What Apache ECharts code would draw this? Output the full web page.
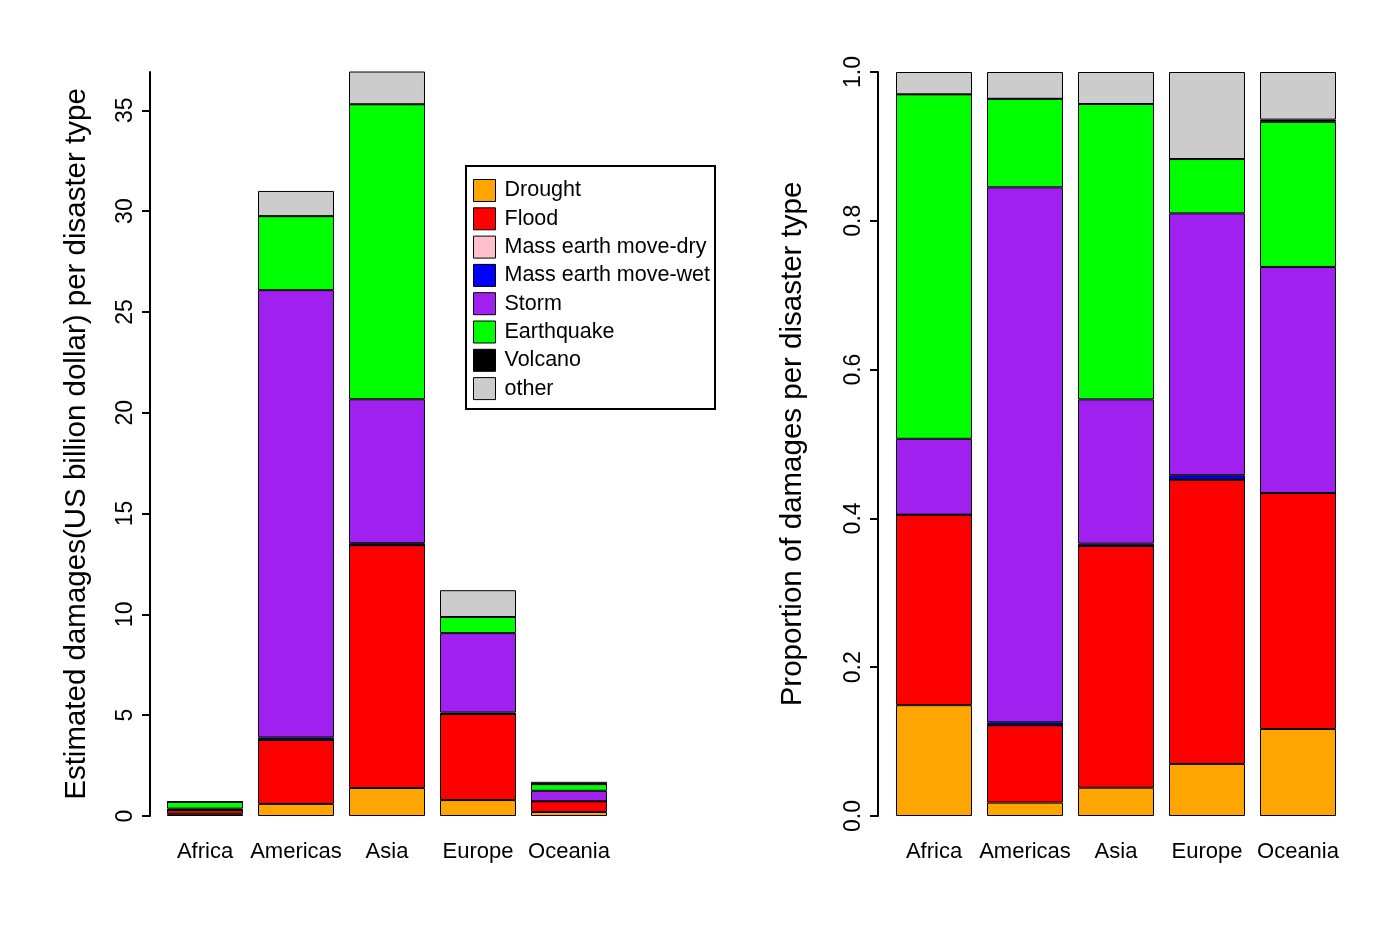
<!DOCTYPE html>
<html><head><meta charset="utf-8">
<script src="https://cdn.jsdelivr.net/npm/echarts@6/dist/echarts.min.js"></script>
<style>html,body{margin:0;padding:0;background:#fff}#c{width:1394px;height:944px}</style>
</head><body><div id="c"></div>
<script>
const regions = ["Africa","Americas","Asia","Europe","Oceania"];
const types = ["Drought","Flood","Mass earth move-dry","Mass earth move-wet","Storm","Earthquake","Volcano","other"];
const colors = ["#FFA500","#FF0000","#FFC0CB","#0000FF","#A020F0","#00FF00","#000000","#CCCCCC"];
// Left: estimated damages (US billion dollar), per type, per region
const dmgDrought    = [0.107, 0.60, 1.39, 0.79, 0.20];
const dmgFlood      = [0.184, 3.17, 12.04, 4.27, 0.53];
const dmgMassDry    = [0, 0, 0, 0, 0];
const dmgMassWet    = [0, 0.13, 0.10, 0.07, 0];
const dmgStorm      = [0.073, 22.18, 7.14, 3.94, 0.52];
const dmgEarthquake = [0.334, 3.67, 14.63, 0.80, 0.33];
const dmgVolcano    = [0, 0, 0, 0, 0.005];
const dmgOther      = [0.022, 1.25, 1.68, 1.33, 0.11];
// Right: proportion of damages per type
const prDrought    = [0.149, 0.018, 0.038, 0.070, 0.117];
const prFlood      = [0.256, 0.104, 0.325, 0.382, 0.317];
const prMassDry    = [0, 0, 0, 0, 0];
const prMassWet    = [0, 0.004, 0.003, 0.006, 0];
const prStorm      = [0.102, 0.719, 0.194, 0.352, 0.304];
const prEarthquake = [0.463, 0.119, 0.397, 0.073, 0.195];
const prVolcano    = [0, 0, 0, 0, 0.003];
const prOther      = [0.030, 0.036, 0.043, 0.117, 0.064];
const leftTicks = [0,5,10,15,20,25,30,35];
const rightTicks = [0,0.2,0.4,0.6,0.8,1.0];

const dmg = [dmgDrought,dmgFlood,dmgMassDry,dmgMassWet,dmgStorm,dmgEarthquake,dmgVolcano,dmgOther];
const pr = [prDrought,prFlood,prMassDry,prMassWet,prStorm,prEarthquake,prVolcano,prOther];
const FONT = "Liberation Sans";

const series = [];
types.forEach((t,i)=>{
  series.push({name:t,type:'bar',stack:'L',xAxisIndex:0,yAxisIndex:0,data:dmg[i],
    barCategoryGap:'16.5%',itemStyle:{color:colors[i],borderColor:'#000',borderWidth:1},emphasis:{disabled:true}});
});
types.forEach((t,i)=>{
  series.push({name:t,type:'bar',stack:'R',xAxisIndex:1,yAxisIndex:1,data:pr[i],
    barCategoryGap:'16.5%',itemStyle:{color:colors[i],borderColor:'#000',borderWidth:1},emphasis:{disabled:true}});
});

function yAx(gi,max,ticks,name,fmt,offset,nameGap){
  return {type:'value',gridIndex:gi,min:0,max:max,offset:offset,
    name:name,nameLocation:'middle',nameGap:nameGap,
    nameTextStyle:{fontFamily:FONT,fontSize:29.5,color:'#000'},
    axisLine:{show:true,lineStyle:{color:'#000',width:2}},
    axisTick:{show:true,length:8,lineStyle:{color:'#000',width:2},customValues:ticks},
    axisLabel:{rotate:90,margin:13,fontFamily:FONT,fontSize:23,color:'#000',customValues:ticks,formatter:fmt},
    splitLine:{show:false}};
}
function xAx(gi){
  return {type:'category',gridIndex:gi,data:regions,
    axisLine:{show:false},axisTick:{show:false},
    axisLabel:{interval:0,margin:25,fontFamily:FONT,fontSize:22,color:'#000'}};
}

const chart = echarts.init(document.getElementById('c'));
chart.setOption({
  animation:false,
  backgroundColor:'#fff',
  grid:[
    {left:159.5,width:455,top:72,bottom:128},
    {left:888.5,width:455,top:72,bottom:128}
  ],
  xAxis:[xAx(0),xAx(1)],
  yAxis:[
    yAx(0,36.9,leftTicks,'Estimated damages(US billion dollar) per disaster type',v=>String(v),9.5,58),
    yAx(1,1,rightTicks,'Proportion of damages per disaster type',v=>v.toFixed(1),10.5,70)
  ],
  legend:{orient:'vertical',left:466,top:166,
    padding:[13,5,9,7],itemWidth:22,itemHeight:22,itemGap:5.3,
    borderColor:'#000',borderWidth:2,backgroundColor:'#fff',
    icon:'rect',selectedMode:false,
    itemStyle:{borderColor:'#000',borderWidth:1},
    textStyle:{fontFamily:FONT,fontSize:21.5,color:'#000',padding:[0,0,0,4]},
    data:types},
  series:series
});
</script></body></html>
